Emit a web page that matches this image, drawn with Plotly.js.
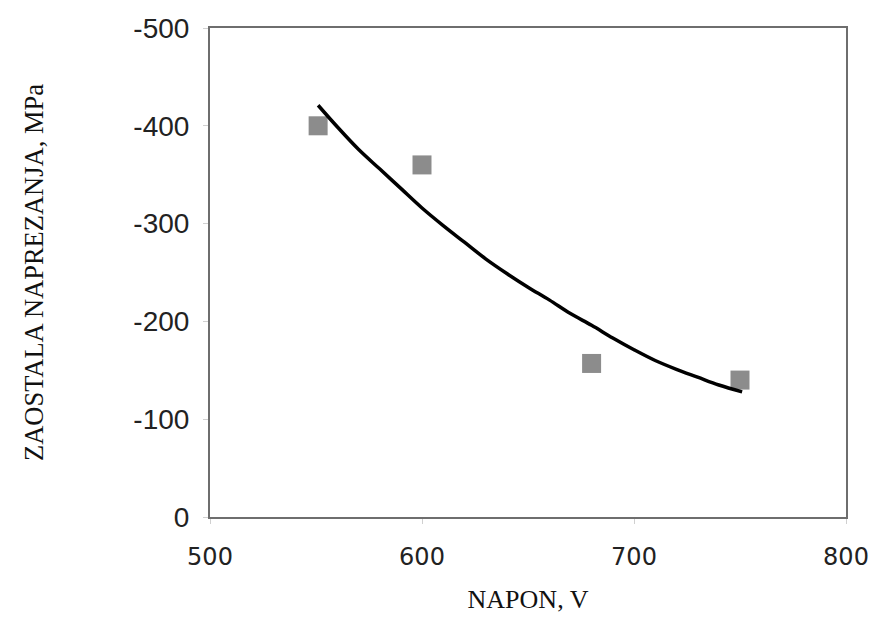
<!DOCTYPE html>
<html>
<head>
<meta charset="utf-8">
<script src="https://cdn.plot.ly/plotly-3.0.1.min.js"></script>
<style>html,body{margin:0;padding:0;background:#fff;}#chart{width:871px;height:617px;}</style>
</head>
<body>
<div id="chart"></div>
<script>
// Measured points
const pointX = [551, 600, 680, 750];
const pointY = [-400, -360, -157, -140];
// Fitted trend curve
const curveX = [551, 560, 570, 580, 590, 600, 610, 620, 630, 640, 650, 660, 670, 680, 690, 700, 710, 720, 730, 740, 751];
const curveY = [-421, -399, -376, -356, -336, -316, -298, -281, -264, -249, -235, -222, -208, -196, -183, -171, -160, -151, -143, -135, -128];
// Tick labels
const xTickVals = [500, 600, 700, 800];
const xTickText = ["500", "600", "700", "800"];
const yTickVals = [0, -100, -200, -300, -400, -500];
const yTickText = ["0", "-100", "-200", "-300", "-400", "-500"];

const traces = [
  {x: pointX, y: pointY, type: 'scatter', mode: 'markers',
   marker: {symbol: 'square', size: 19, color: '#8c8c8c'}, showlegend: false},
  {x: curveX, y: curveY, type: 'scatter', mode: 'lines',
   line: {color: '#000', width: 3.5, shape: 'spline'}, showlegend: false}
];

const layout = {
  width: 871, height: 617,
  margin: {l: 210, r: 25, t: 28, b: 100},
  paper_bgcolor: '#fff', plot_bgcolor: '#fff',
  font: {family: '"Liberation Sans", Arial, sans-serif', color: '#111'},
  xaxis: {
    range: [500, 800], tickvals: xTickVals, ticktext: xTickText,
    showgrid: false, zeroline: false, showline: true, mirror: true,
    linecolor: '#6e6e6e', linewidth: 2,
    ticks: 'outside', ticklen: 5, tickcolor: '#d0d0d0',
    ticklabelstandoff: 12,
    tickfont: {size: 24, family: '"DejaVu Sans", Verdana, sans-serif', color: '#222'},
    title: {text: 'NAPON, V', font: {family: '"Liberation Serif", "Times New Roman", serif', size: 26, color: '#111'}, standoff: 20}
  },
  yaxis: {
    range: [0, -500], tickvals: yTickVals, ticktext: yTickText,
    showgrid: false, zeroline: false, showline: true, mirror: true,
    linecolor: '#6e6e6e', linewidth: 2,
    ticks: 'outside', ticklen: 5, tickcolor: '#d0d0d0',
    ticklabelstandoff: 8,
    tickfont: {size: 28, family: '"Liberation Sans", Arial, sans-serif', color: '#222'},
    title: {text: 'ZAOSTALA NAPREZANJA, MPa', font: {family: '"Liberation Serif", "Times New Roman", serif', size: 26.5, color: '#111'}, standoff: 82}
  }
};

Plotly.newPlot('chart', traces, layout, {displayModeBar: false, staticPlot: true});
</script>
</body>
</html>
